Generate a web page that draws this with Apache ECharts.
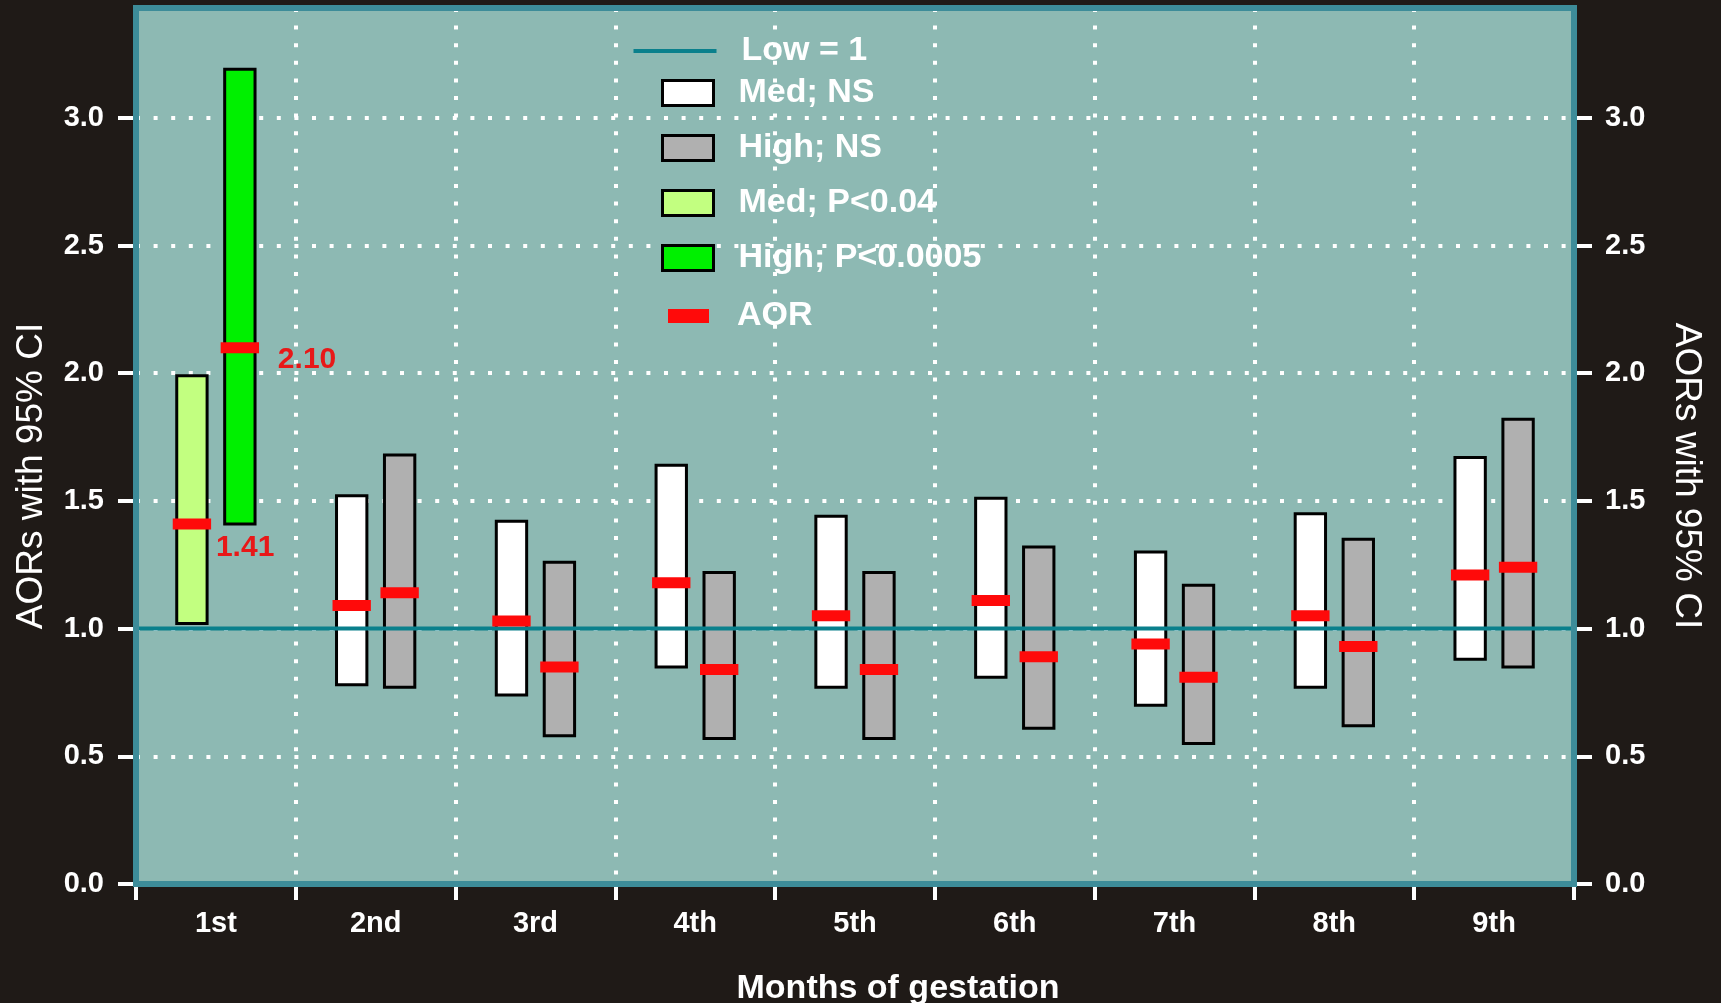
<!DOCTYPE html>
<html>
<head>
<meta charset="utf-8">
<title>AORs with 95% CI by month of gestation</title>
<script src="https://cdn.jsdelivr.net/npm/echarts@6/dist/echarts.min.js"></script>
<style>
  html, body { margin: 0; padding: 0; background: #1f1a17; }
  #chart { width: 1721px; height: 1003px; }
</style>
</head>
<body>
<div id="chart"></div>
<script>
// ---- data ----
const categories = ['1st', '2nd', '3rd', '4th', '5th', '6th', '7th', '8th', '9th'];
const medLow  = [1.02, 0.78, 0.74, 0.85, 0.77, 0.81, 0.70, 0.77, 0.88];
const medHigh = [1.99, 1.52, 1.42, 1.64, 1.44, 1.51, 1.30, 1.45, 1.67];
const medAOR  = [1.41, 1.09, 1.03, 1.18, 1.05, 1.11, 0.94, 1.05, 1.21];
const highLow  = [1.41, 0.77, 0.58, 0.57, 0.57, 0.61, 0.55, 0.62, 0.85];
const highHigh = [3.19, 1.68, 1.26, 1.22, 1.22, 1.32, 1.17, 1.35, 1.82];
const highAOR  = [2.10, 1.14, 0.85, 0.84, 0.84, 0.89, 0.81, 0.93, 1.24];
const medSignificant  = [true, false, false, false, false, false, false, false, false];
const highSignificant = [true, false, false, false, false, false, false, false, false];
const lowReference = 1;
const yTicks = [0, 0.5, 1.0, 1.5, 2.0, 2.5, 3.0];

// ---- styles ----
const FONT = '"Liberation Sans", Arial, Helvetica, sans-serif';
const WHITE = '#ffffff';
const dotted = { color: WHITE, width: 4, type: [4, 13.6], cap: 'butt' };
const colors = {
  medNS: '#ffffff', highNS: '#b0b0b0', medSig: '#c2ff80', highSig: '#00f000',
  aor: '#ff0a0a', label: '#e81818', low: '#0a808c', frame: '#3d8c99', plot: '#8db9b3'
};
const GRID = { left: 136, right: 147, top: 8, bottom: 119 };
const W = 1721, H = 1003;

function buildBars(low, high, aor, sig, wantSig) {
  const out = [];
  for (let i = 0; i < categories.length; i++) {
    if (sig[i] === wantSig) out.push([i, low[i], high[i], aor[i]]);
  }
  return out;
}
function buildAOR() {
  const out = [];
  for (let i = 0; i < categories.length; i++) {
    out.push([i, medAOR[i], -1, medSignificant[i] ? 1 : 0]);
    out.push([i, highAOR[i], 1, highSignificant[i] ? 1 : 0]);
  }
  return out;
}

function barRender(side, color) {
  return function (params, api) {
    const cat = api.value(0);
    const lo = api.coord([cat, api.value(1)]);
    const hi = api.coord([cat, api.value(2)]);
    const band = api.size([1, 0])[0];
    const w = band * 0.19;
    const cx = lo[0] + side * band * 0.15;
    return {
      type: 'rect',
      shape: { x: cx - w / 2, y: hi[1], width: w, height: lo[1] - hi[1] },
      style: { fill: color, stroke: '#000000', lineWidth: 3 }
    };
  };
}

function aorRender(params, api) {
  const cat = api.value(0);
  const v = api.value(1);
  const side = api.value(2);
  const p = api.coord([cat, v]);
  const band = api.size([1, 0])[0];
  const cx = p[0] + side * band * 0.15;
  const w = band * 0.24;
  const h = 11;
  const children = [{
    type: 'rect',
    shape: { x: cx - w / 2, y: p[1] - h / 2, width: w, height: h },
    style: { fill: colors.aor }
  }];
  if (api.value(3) === 1) {
    const dx = side < 0 ? 24 : 38;
    const dy = side < 0 ? 24 : 12;
    children.push({
      type: 'text',
      x: cx + dx, y: p[1] + dy,
      style: {
        text: v.toFixed(2), fill: colors.label,
        fontFamily: FONT, fontSize: 30, fontWeight: 'bold',
        align: 'left', verticalAlign: 'middle'
      }
    });
  }
  return { type: 'group', children: children };
}

function lowRender(params, api) {
  const y = api.coord([0, api.value(1)])[1];
  const cs = params.coordSys;
  return {
    type: 'line',
    shape: { x1: cs.x, y1: y, x2: cs.x + cs.width, y2: y },
    style: { stroke: colors.low, lineWidth: 4 }
  };
}

const yAxisCommon = {
  type: 'value', min: 0, max: 3.43, interval: 0.5,
  axisLine: { show: false },
  axisTick: { show: true, length: 18, lineStyle: { color: WHITE, width: 4 }, customValues: yTicks },
  axisLabel: {
    color: WHITE, fontFamily: FONT, fontSize: 29, fontWeight: 'bold',
    customValues: yTicks, formatter: v => Number(v).toFixed(1), padding: [0, 0, 4, 0]
  },
  name: 'AORs with 95% CI', nameLocation: 'middle'
};
const yNameStyle = { color: WHITE, fontFamily: FONT, fontSize: 37 };

const legendText = { color: WHITE, fontFamily: FONT, fontSize: 34, fontWeight: 'bold' };

const option = {
  backgroundColor: '#1f1a17',
  animation: false,
  grid: {
    left: GRID.left, right: GRID.right, top: GRID.top, bottom: GRID.bottom,
    outerBoundsMode: 'none', containLabel: false,
    show: true, backgroundColor: colors.plot, borderWidth: 0
  },
  graphic: [{
    type: 'rect', z: 100, silent: true,
    shape: { x: GRID.left, y: GRID.top, width: W - GRID.left - GRID.right, height: H - GRID.top - GRID.bottom },
    style: { fill: null, stroke: colors.frame, lineWidth: 6 }
  }],
  legend: [
    {
      orient: 'vertical', left: 628.5, top: 29, itemWidth: 83, itemHeight: 4,
      selectedMode: false,
      textStyle: Object.assign({ padding: [0, 0, 0, 20] }, legendText),
      data: [{ name: 'Low = 1', icon: 'rect', itemStyle: { color: colors.low, borderWidth: 0 } }]
    },
    {
      orient: 'vertical', left: 656, top: 71, itemWidth: 51, itemHeight: 25, itemGap: 21,
      selectedMode: false,
      textStyle: Object.assign({ padding: [0, 0, 0, 20] }, legendText),
      data: [
        { name: 'Med; NS', icon: 'rect', itemStyle: { color: colors.medNS, borderColor: '#000', borderWidth: 3 } },
        { name: 'High; NS', icon: 'rect', itemStyle: { color: colors.highNS, borderColor: '#000', borderWidth: 3 } },
        { name: 'Med; P<0.04', icon: 'rect', itemStyle: { color: colors.medSig, borderColor: '#000', borderWidth: 3 } },
        { name: 'High; P<0.0005', icon: 'rect', itemStyle: { color: colors.highSig, borderColor: '#000', borderWidth: 3 } }
      ]
    },
    {
      orient: 'vertical', left: 663, top: 294, itemWidth: 41, itemHeight: 14,
      selectedMode: false,
      textStyle: Object.assign({ padding: [0, 0, 0, 23] }, legendText),
      data: [{ name: 'AOR', icon: 'rect', itemStyle: { color: colors.aor, borderWidth: 0 } }]
    }
  ],
  xAxis: {
    type: 'category', data: categories, boundaryGap: true,
    axisLine: { show: false },
    axisTick: { show: true, interval: 0, length: 16, lineStyle: { color: WHITE, width: 4 } },
    axisLabel: { color: WHITE, fontFamily: FONT, fontSize: 29, fontWeight: 'bold', margin: 25, interval: 0 },
    splitLine: { show: true, interval: 0, lineStyle: dotted },
    name: 'Months of gestation', nameLocation: 'middle', nameGap: 88,
    nameTextStyle: { color: WHITE, fontFamily: FONT, fontSize: 34, fontWeight: 'bold', padding: [0, 0, 0, 86] }
  },
  yAxis: [
    Object.assign({}, yAxisCommon, {
      position: 'left', nameGap: 86,
      nameTextStyle: Object.assign({ padding: [0, 60, 0, 0] }, yNameStyle),
      axisLabel: Object.assign({}, yAxisCommon.axisLabel, { margin: 32 }),
      splitLine: { show: true, lineStyle: dotted }
    }),
    Object.assign({}, yAxisCommon, {
      position: 'right', nameGap: 94, nameRotate: -90,
      nameTextStyle: Object.assign({ padding: [0, 0, 0, 60] }, yNameStyle),
      axisLabel: Object.assign({}, yAxisCommon.axisLabel, { margin: 31 }),
      splitLine: { show: false }
    })
  ],
  series: [
    { name: 'Med; NS', type: 'custom', z: 2, itemStyle: { color: colors.medNS },
      encode: { x: 0, y: [1, 2] }, renderItem: barRender(-1, colors.medNS),
      data: buildBars(medLow, medHigh, medAOR, medSignificant, false) },
    { name: 'High; NS', type: 'custom', z: 2, itemStyle: { color: colors.highNS },
      encode: { x: 0, y: [1, 2] }, renderItem: barRender(1, colors.highNS),
      data: buildBars(highLow, highHigh, highAOR, highSignificant, false) },
    { name: 'Med; P<0.04', type: 'custom', z: 2, itemStyle: { color: colors.medSig },
      encode: { x: 0, y: [1, 2] }, renderItem: barRender(-1, colors.medSig),
      data: buildBars(medLow, medHigh, medAOR, medSignificant, true) },
    { name: 'High; P<0.0005', type: 'custom', z: 2, itemStyle: { color: colors.highSig },
      encode: { x: 0, y: [1, 2] }, renderItem: barRender(1, colors.highSig),
      data: buildBars(highLow, highHigh, highAOR, highSignificant, true) },
    { name: 'Low = 1', type: 'custom', z: 3, itemStyle: { color: colors.low },
      encode: { x: 0, y: 1 }, renderItem: lowRender, data: [[0, lowReference]] },
    { name: 'AOR', type: 'custom', z: 4, itemStyle: { color: colors.aor },
      encode: { x: 0, y: 1 }, renderItem: aorRender, data: buildAOR() }
  ]
};

const chart = echarts.init(document.getElementById('chart'), null, { renderer: 'canvas' });
chart.setOption(option);
</script>
</body>
</html>
